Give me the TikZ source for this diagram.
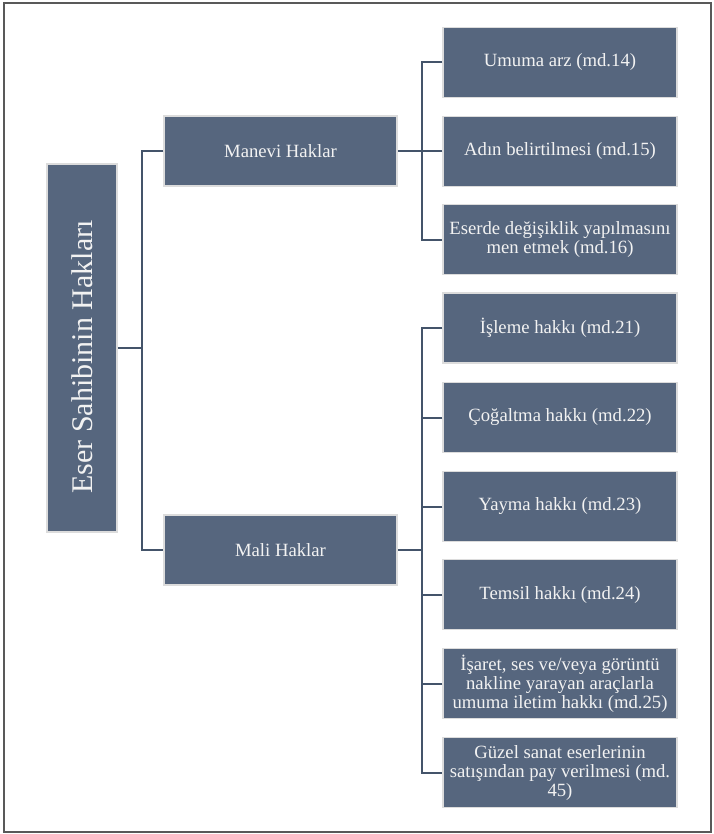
\documentclass[tikz,border=0pt]{standalone}
\usepackage{fontspec}
\setmainfont{Liberation Serif}
\usetikzlibrary{calc}
\definecolor{boxfill}{HTML}{56667E}
\definecolor{boxline}{HTML}{DCDCDC}
\definecolor{conn}{HTML}{44546A}
\definecolor{txt}{HTML}{F2F2F2}
\begin{document}
\begin{tikzpicture}[x=1pt,y=-1pt,
  box/.style={draw=boxline,line width=1.5pt,fill=boxfill,text=txt,align=center,
    inner sep=0pt,font=\fontsize{18.7}{19}\selectfont},
  leaf/.style={box,minimum width=234pt,minimum height=70pt},
  mid/.style={box,minimum width=233pt,minimum height=70pt},
  link/.style={draw=conn,line width=2pt}]
\useasboundingbox (0,0) rectangle (713,834);
\draw[black!65,line width=1.2pt] (4,3) rectangle (711,832);
% root
\node[box,minimum width=70pt,minimum height=368pt] (root) at (82,348) {};
\node[text=txt,rotate=90,font=\fontsize{30}{32}\selectfont] (roottxt) at ($(root.center)+(0,9)$) {Eser Sahibinin Hakları};
% middle
\node[mid] (man) at (280.5,151) {Manevi Haklar};
\node[mid] (mal) at (280.5,550) {Mali Haklar};
% leaves
\node[leaf] (r1) at (560,62.5) {Umuma arz (md.14)};
\node[leaf] (r2) at (560,151.5) {Adın belirtilmesi (md.15)};
\node[leaf] (r3) at (560,239.5) {Eserde değişiklik yapılmasını\\men etmek (md.16)};
\node[leaf] (r4) at (560,328) {İşleme hakkı (md.21)};
\node[leaf] (r5) at (560,417.5) {Çoğaltma hakkı (md.22)};
\node[leaf] (r6) at (560,506.5) {Yayma hakkı (md.23)};
\node[leaf] (r7) at (560,594.5) {Temsil hakkı (md.24)};
\node[leaf] (r8) at (560,683.5) {İşaret, ses ve/veya görüntü\\nakline yarayan araçlarla\\umuma iletim hakkı (md.25)};
\node[leaf] (r9) at (560,772.5) {Güzel sanat eserlerinin\\satışından pay verilmesi (md.\\45)};
% connectors
\coordinate (j1) at ($(root.east)+(24,0)$);
\coordinate (j2) at ($(man.east)+(24,0)$);
\coordinate (j3) at ($(mal.east)+(24,0)$);
\draw[link] (root.east) -- (j1);
\draw[link] (man.west) -| (j1) |- (mal.west);
\draw[link] (man.east) -- (j2);
\draw[link] (r1.west) -| (j2) |- (r3.west);
\draw[link] (r2.west) -- (r2.west -| j2);
\draw[link] (mal.east) -- (j3);
\draw[link] (r4.west) -| (j3) |- (r9.west);
\draw[link] (r5.west) -- (r5.west -| j3);
\draw[link] (r6.west) -- (r6.west -| j3);
\draw[link] (r7.west) -- (r7.west -| j3);
\draw[link] (r8.west) -- (r8.west -| j3);
\end{tikzpicture}
\end{document}
